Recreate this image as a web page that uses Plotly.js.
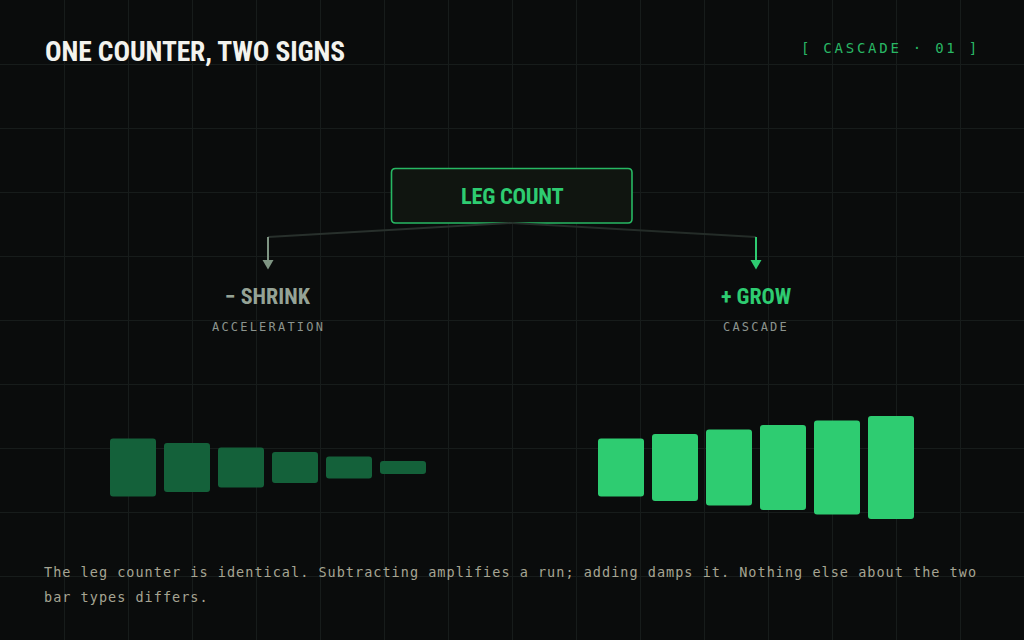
<!DOCTYPE html>
<html>
<head>
<meta charset="utf-8">
<script src="https://cdn.plot.ly/plotly-3.0.1.min.js"></script>
<style>
  html, body { margin: 0; padding: 0; background: #0a0c0c; }
  #chart { width: 1024px; height: 640px; }
</style>
</head>
<body>
<div id="chart"></div>
<script>
// bar heights for each of the six legs, in pixels of the bar band
const barSlots = [1, 2, 3, 4, 5, 6];
const shrinkHeights = [58, 49, 40, 31, 22, 13];
const growHeights = [58, 67, 76, 85, 94, 103];

const titleText = "ONE COUNTER, TWO SIGNS";
const tagText = "[ CASCADE · 01 ]";
const rootLabel = "LEG COUNT";
const branchLabels = ["− SHRINK", "+ GROW"];
const branchSubs = ["ACCELERATION", "CASCADE"];
const footerLines = [
  "The leg counter is identical. Subtracting amplifies a run; adding damps it. Nothing else about the two",
  "bar types differs."
];

const BG = "#0a0c0c";
const GRID = "#171c1b";
const GREEN = "#2ecc71";
const DARK_GREEN = "#14613a";
const GREY = "#95a396";
const COND = "Roboto, sans-serif";
const MONO = "'DejaVu Sans Mono', 'Liberation Mono', monospace";

const W = 1024, H = 640;

function spaced(t, ls) {
  return '<span style="letter-spacing:' + ls + 'px">' + t + '</span>';
}
function narrow(t, ls) {
  return '<span style="font-stretch:75%;letter-spacing:' + (ls || 0) + 'px">' + t + '</span>';
}

let shrinkTrace = {
  type: "bar",
  x: barSlots,
  y: shrinkHeights,
  base: shrinkHeights.map(h => -h / 2),
  xaxis: "x2",
  yaxis: "y2",
  marker: { color: DARK_GREEN, cornerradius: 3, line: { width: 0 } },
  hoverinfo: "skip"
};
let growTrace = {
  type: "bar",
  x: barSlots,
  y: growHeights,
  base: growHeights.map(h => -h / 2),
  xaxis: "x3",
  yaxis: "y2",
  marker: { color: GREEN, cornerradius: 3, line: { width: 0 } },
  hoverinfo: "skip"
};
// empty trace so the full-page grid subplot exists
let gridTrace = { type: "scatter", x: [], y: [], xaxis: "x", yaxis: "y", hoverinfo: "skip" };

// root box and connectors (page pixel units on x/y)
let shapes = [
  { type: "path", path: "M 395.5,168.5 L 628,168.5 Q 632,168.5 632,172.5 L 632,219 Q 632,223 628,223 L 395.5,223 Q 391.5,223 391.5,219 L 391.5,172.5 Q 391.5,168.5 395.5,168.5 Z",
    xref: "x", yref: "y", fillcolor: "#101510", line: { color: "#27b863", width: 1.6 } },
  { type: "line", xref: "x", yref: "y", x0: 512, y0: 223, x1: 268, y1: 237, line: { color: "#28302c", width: 2 } },
  { type: "line", xref: "x", yref: "y", x0: 512, y0: 223, x1: 756, y1: 237, line: { color: "#242c28", width: 2 } },
  { type: "line", xref: "x", yref: "y", x0: 268, y0: 237, x1: 268, y1: 261, line: { color: "#7f9583", width: 2 } },
  { type: "line", xref: "x", yref: "y", x0: 756, y0: 237, x1: 756, y1: 261, line: { color: GREEN, width: 2 } },
  { type: "path", xref: "x", yref: "y", path: "M 262.5,260 L 273.5,260 L 268,269.5 Z", fillcolor: "#7f9583", line: { width: 0 } },
  { type: "path", xref: "x", yref: "y", path: "M 750.5,260 L 761.5,260 L 756,269.5 Z", fillcolor: GREEN, line: { width: 0 } }
];

let annotations = [
  { text: narrow(titleText, -0.1), x: 44, y: 51, xanchor: "left", yanchor: "middle",
    font: { family: COND, size: 27.5, color: "#f3f3ee", weight: 700 } },
  { text: spaced(tagText, 2.75), x: 800, y: 48, xanchor: "left", yanchor: "middle",
    font: { family: MONO, size: 14, color: "#29b765" } },
  { text: narrow(rootLabel, -0.3), x: 512, y: 196, xanchor: "center", yanchor: "middle",
    font: { family: COND, size: 22.5, color: GREEN, weight: 700 } },
  { text: narrow(branchLabels[0]), x: 268, y: 296, xanchor: "center", yanchor: "middle",
    font: { family: COND, size: 22, color: GREY, weight: 700 } },
  { text: narrow(branchLabels[1]), x: 756, y: 296, xanchor: "center", yanchor: "middle",
    font: { family: COND, size: 22, color: GREEN, weight: 700 } },
  { text: spaced(branchSubs[0], 2.2), x: 268, y: 327, xanchor: "center", yanchor: "middle",
    font: { family: MONO, size: 12, color: "#8c948e" } },
  { text: spaced(branchSubs[1], 2.2), x: 756, y: 327, xanchor: "center", yanchor: "middle",
    font: { family: MONO, size: 12, color: "#8c948e" } },
  { text: spaced(footerLines[0], 1.02), x: 43, y: 572, xanchor: "left", yanchor: "middle",
    font: { family: MONO, size: 13.5, color: "#a6a593" } },
  { text: spaced(footerLines[1], 1.02), x: 43, y: 597, xanchor: "left", yanchor: "middle",
    font: { family: MONO, size: 13.5, color: "#a6a593" } }
].map(a => Object.assign({ xref: "x", yref: "y", showarrow: false, borderpad: 0 }, a));

let hidden = { visible: false, fixedrange: true };

let layout = {
  width: W,
  height: H,
  margin: { l: 0, r: 0, t: 0, b: 0, pad: 0 },
  paper_bgcolor: BG,
  plot_bgcolor: "rgba(0,0,0,0)",
  showlegend: false,
  hovermode: false,
  bargap: 8 / 54,
  xaxis: {
    domain: [0, 1], range: [0, W], tick0: 0, dtick: 64,
    showgrid: true, gridcolor: GRID, gridwidth: 1,
    zeroline: false, showticklabels: false, ticks: "", showline: false, fixedrange: true
  },
  yaxis: {
    domain: [0, 1], range: [H, 0], tick0: 0, dtick: 64,
    showgrid: true, gridcolor: GRID, gridwidth: 1,
    zeroline: false, showticklabels: false, ticks: "", showline: false, fixedrange: true
  },
  xaxis2: Object.assign({ domain: [106 / W, 430 / W], range: [0.5, 6.5], anchor: "y2" }, hidden),
  xaxis3: Object.assign({ domain: [594 / W, 918 / W], range: [0.5, 6.5], anchor: "y2" }, hidden),
  yaxis2: Object.assign({ domain: [1 - 527.5 / H, 1 - 407.5 / H], range: [-60, 60], anchor: "x2" }, hidden),
  shapes: shapes,
  annotations: annotations
};

Plotly.newPlot("chart", [gridTrace, shrinkTrace, growTrace], layout, { displayModeBar: false, staticPlot: true });
</script>
</body>
</html>
